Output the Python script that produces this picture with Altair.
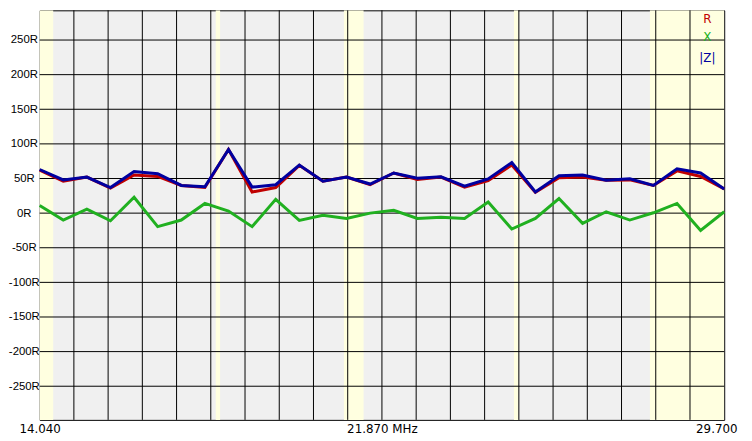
import altair as alt
import pandas as pd
import numpy as np

# ---- data ----
freq = [14.04, 14.58, 15.12, 15.66, 16.20, 16.74, 17.28, 17.82, 18.36, 18.90,
        19.44, 19.98, 20.52, 21.06, 21.60, 22.14, 22.68, 23.22, 23.76, 24.30,
        24.84, 25.38, 25.92, 26.46, 27.00, 27.54, 28.08, 28.62, 29.16, 29.70]
R_vals = [62, 46, 52, 36, 55, 53, 40, 37, 92, 30.5,
          37, 69, 46, 52, 41, 58, 48.5, 52, 37.6, 47,
          69.5, 30, 51, 52, 47.6, 48, 40, 61, 53, 35]
X_vals = [11, -10, 5.7, -11, 23, -19.5, -10, 14, 3, -19.5,
          20, -10.5, -3, -7.6, 0, 4, -7.6, -6, -7.6, 16,
          -23, -7.6, 21, -14.8, 2, -10, 0.5, 14, -25, 2]
Z_vals = [63, 48, 52, 37, 60, 57, 40, 38, 92, 37.6,
          41, 69.5, 46, 52, 42, 58, 50.5, 52.5, 39, 49.5,
          73, 30.5, 54, 55, 47.6, 49.5, 40, 64, 58, 35]

band_start = [14.00, 18.068, 21.00, 24.89, 28.00]
band_end = [14.35, 18.168, 21.45, 24.99, 29.70]

y_ticks = [-250, -200, -150, -100, -50, 0, 50, 100, 150, 200, 250]
x_label_freqs = [14.04, 21.87, 29.70]
x_label_texts = ["14.040", "21.870 MHz", "29.700"]

series_names = ["R", "X", "|Z|"]
series_colors = ["#C00000", "#20B020", "#0000A0"]

# ---- build tables ----
df = pd.DataFrame({"f": freq, "R": R_vals, "X": X_vals, "|Z|": Z_vals})
bands = pd.DataFrame({"a": band_start, "b": band_end})
vgrid = pd.DataFrame({"f": list(np.linspace(freq[0], freq[-1], 21))[1:-1]})
hgrid = pd.DataFrame({"v": y_ticks})

FONT = "DejaVu Sans"
YFONT = "Liberation Sans"
xscale = alt.Scale(domain=[freq[0], freq[-1]], nice=False, zero=False)
yscale = alt.Scale(domain=[-298.6, 292.9], nice=False, zero=False)

label_expr = " : ".join(
    [f"abs(datum.value - {v}) < 0.01 ? '{t}'" for v, t in zip(x_label_freqs, x_label_texts)]
) + " : ''"

x_axis = alt.Axis(values=x_label_freqs, labelExpr=label_expr, grid=False, ticks=False,
                  domain=False, title=None, labelFont=FONT, labelFontSize=12,
                  labelColor="#000000", labelPadding=4, labelFlush=False,
                  labelOverlap=False, labelAlign="center",
                  labelOffset={"condition": {"test": "datum.value > 29.6", "value": -8}, "value": 0})
y_axis = alt.Axis(values=y_ticks, labelExpr="datum.value + 'R'", grid=False, ticks=False,
                  domain=False, title=None, labelFont=YFONT, labelFontSize=11.5,
                  labelColor="#000000", labelPadding=16, labelAlign="center",
                  labelFlush=False, labelOverlap=False)

band_layer = alt.Chart(bands).mark_rect(color="#FFFFE0", clip=True).encode(
    x=alt.X("a:Q", scale=xscale, axis=x_axis),
    x2="b:Q",
)

vrules = alt.Chart(vgrid).mark_rule(color="#000000", strokeWidth=1).encode(
    x=alt.X("f:Q", scale=xscale)
)
hrules = alt.Chart(hgrid).mark_rule(color="#000000", strokeWidth=1).encode(
    y=alt.Y("v:Q", scale=yscale, axis=y_axis)
)

lines = []
for name, col in zip(series_names, series_colors):
    lines.append(
        alt.Chart(df).mark_line(color=col, strokeWidth=3).encode(
            x=alt.X("f:Q", scale=xscale),
            y=alt.Y(f"{name}:Q" if name != "|Z|" else "\\|Z\\|:Q", scale=yscale),
        )
    )

legend_y = [9, 27, 48]
legend_layers = []
for name, col, yy in zip(series_names, series_colors, legend_y):
    legend_layers.append(
        alt.Chart(pd.DataFrame({"t": [name]})).mark_text(
            color=col, font=FONT, fontSize=12, align="center", baseline="middle"
        ).encode(x=alt.value(675), y=alt.value(yy), text="t:N")
    )

chart = alt.layer(band_layer, vrules, hrules, *lines, *legend_layers).properties(
    width=692, height=414,
    autosize=alt.AutoSizeParams(type="none"),
    padding={"left": 32, "top": 0, "right": 20, "bottom": 19},
).configure_view(fill="#F0F0F0", stroke="#000000", strokeWidth=1)

chart.save("out.html", embed_options={"renderer": "svg", "actions": False})
